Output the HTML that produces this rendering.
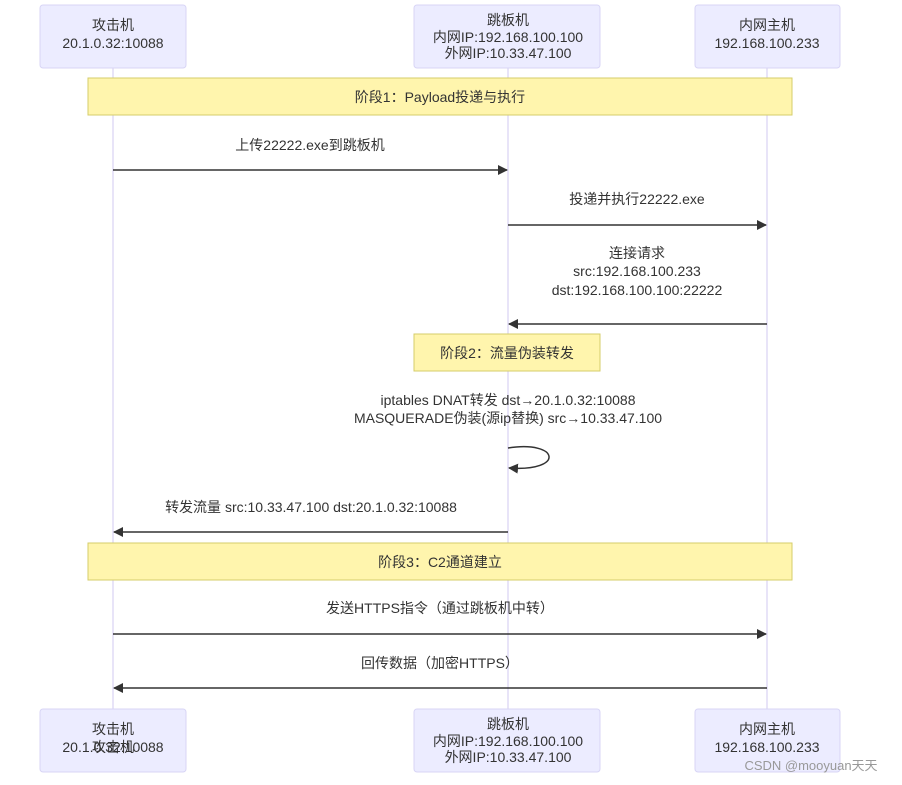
<!DOCTYPE html>
<html><head><meta charset="utf-8"><style>
body{margin:0;background:#fff;width:902px;height:780px;overflow:hidden}
svg text{font-family:"Liberation Sans","Noto Sans CJK SC",sans-serif;font-size:14px;fill:#333;text-anchor:middle}
</style></head><body>
<svg width="902" height="780" xmlns="http://www.w3.org/2000/svg">
<defs><marker id="a" markerWidth="10" markerHeight="10" refX="9" refY="5" orient="auto" markerUnits="userSpaceOnUse"><path d="M0,0 L10,5 L0,10 z" fill="#333"/></marker></defs>
<g stroke="#e0dcf5" stroke-width="1.5"><line x1="113" y1="68" x2="113" y2="709"/><line x1="508" y1="68" x2="508" y2="709"/><line x1="767" y1="68" x2="767" y2="709"/></g>
<g fill="#ececff" stroke="#d8d5f5">
<rect x="40" y="5" width="146" height="63" rx="3"/><rect x="414" y="5" width="186" height="63" rx="3"/><rect x="695" y="5" width="145" height="63" rx="3"/>
<rect x="40" y="709" width="146" height="63" rx="3"/><rect x="414" y="709" width="186" height="63" rx="3"/><rect x="695" y="709" width="145" height="63" rx="3"/>
</g>
<text x="113" y="30">攻击机</text><text x="113" y="48">20.1.0.32:10088</text>
<text x="508" y="25">跳板机</text><text x="508" y="42">内网IP:192.168.100.100</text><text x="508" y="58">外网IP:10.33.47.100</text>
<text x="767" y="30">内网主机</text><text x="767" y="48">192.168.100.233</text>
<text x="113" y="752">攻击机</text><text x="113" y="752" dy="0" opacity="0"></text>
<text x="113" y="734">攻击机</text><text x="113" y="752">20.1.0.32:10088</text>
<text x="508" y="729">跳板机</text><text x="508" y="746">内网IP:192.168.100.100</text><text x="508" y="762">外网IP:10.33.47.100</text>
<text x="767" y="734">内网主机</text><text x="767" y="752">192.168.100.233</text>
<g fill="#fff5ad" stroke="#d4cd6a"><rect x="88" y="78" width="704" height="37"/><rect x="414" y="334" width="186" height="37"/><rect x="88" y="543" width="704" height="37"/></g>
<text x="440" y="102">阶段1：Payload投递与执行</text>
<text x="507" y="358">阶段2：流量伪装转发</text>
<text x="440" y="567">阶段3：C2通道建立</text>
<g stroke="#333" stroke-width="1.5" marker-end="url(#a)" fill="none">
<line x1="113" y1="170" x2="507" y2="170"/>
<line x1="508" y1="225" x2="766" y2="225"/>
<line x1="767" y1="324" x2="509" y2="324"/>
<path d="M508,448 C560,440 565,472 509,468"/>
<line x1="508" y1="532" x2="114" y2="532"/>
<line x1="113" y1="634" x2="766" y2="634"/>
<line x1="767" y1="688" x2="114" y2="688"/>
</g>
<text x="310" y="150">上传22222.exe到跳板机</text>
<text x="637" y="204">投递并执行22222.exe</text>
<text x="637" y="258">连接请求</text><text x="637" y="276">src:192.168.100.233</text><text x="637" y="295">dst:192.168.100.100:22222</text>
<text x="508" y="405">iptables DNAT转发 dst→20.1.0.32:10088</text>
<text x="508" y="423">MASQUERADE伪装(源ip替换) src→10.33.47.100</text>
<text x="311" y="512">转发流量 src:10.33.47.100 dst:20.1.0.32:10088</text>
<text x="440" y="613">发送HTTPS指令（通过跳板机中转）</text>
<text x="440" y="668">回传数据（加密HTTPS）</text>
<text x="811" y="770" style="fill:#999;font-size:13px">CSDN @mooyuan天天</text>
</svg>
</body></html>
